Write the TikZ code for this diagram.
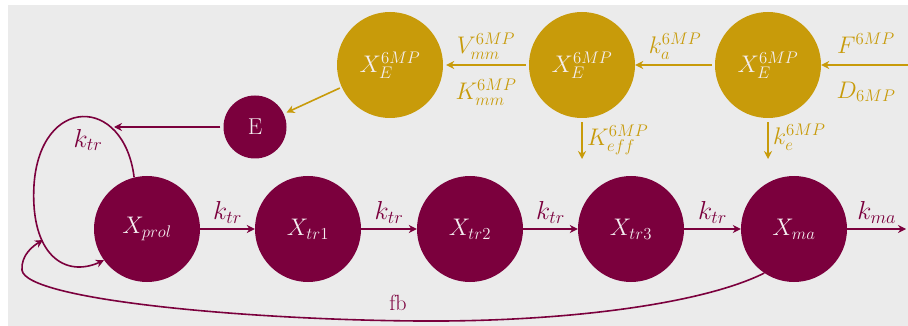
\RequirePackage{fix-cm}
\documentclass[tikz,border=0pt]{standalone}
\usetikzlibrary{arrows.meta}
\definecolor{bgc}{HTML}{EBEBEB}
\definecolor{maroon}{HTML}{7B003D}
\definecolor{gold}{HTML}{C89B0A}
\definecolor{ctext}{HTML}{F4EEF0}
\tikzset{
  mcirc/.style={circle,fill=maroon,draw=none,minimum size=106pt,inner sep=0pt,text=ctext,font=\fontsize{24}{28}\selectfont},
  ecirc/.style={circle,fill=maroon,draw=none,minimum size=63pt,inner sep=0pt,text=ctext,font=\fontsize{23}{26}\selectfont},
  gcirc/.style={circle,fill=gold,draw=none,minimum size=106pt,inner sep=0pt,text=ctext,font=\fontsize{24}{28}\selectfont},
  marr/.style={draw=maroon,line width=1.6pt,-{Stealth[length=8pt,width=8pt]}},
  garr/.style={draw=gold,line width=1.6pt,-{Stealth[length=8pt,width=8pt]}},
  mlab/.style={text=maroon,font=\fontsize{26}{30}\selectfont,inner sep=0pt},
  glab/.style={text=gold,font=\fontsize{24}{28}\selectfont,inner sep=0pt},
}
\begin{document}
\begin{tikzpicture}[x=1pt,y=-1pt]
\useasboundingbox (0,0) rectangle (908,326);
\fill[bgc] (8,5) rectangle (908,326);
% maroon chain
\node[mcirc] (xprol) at (147,229) {$X_{prol}$};
\node[mcirc] (xtr1) at (308,229) {$X_{tr1}$};
\node[mcirc] (xtr2) at (470,229) {$X_{tr2}$};
\node[mcirc] (xtr3) at (631,229) {$X_{tr3}$};
\node[mcirc] (xma) at (794,229) {$X_{ma}$};
\node[ecirc] (e) at (255,127) {E};
% gold
\node[gcirc] (g1) at (390,65) {$X_E^{6MP}$};
\node[gcirc] (g2) at (582,65) {$X_E^{6MP}$};
\node[gcirc] (g3) at (768,65) {$X_E^{6MP}$};
% coordinates
\coordinate (inR) at (908,65);
\coordinate (outR) at (906,229);
\coordinate (loopTop) at (114,127);
\coordinate (d2) at (582,159);
\coordinate (d3) at (768,159);
\coordinate (fbEnd) at (43,240);
% chain arrows
\draw[marr] (xprol) -- node[mlab,above=5pt] {$k_{tr}$} (xtr1);
\draw[marr] (xtr1) -- node[mlab,above=5pt] {$k_{tr}$} (xtr2);
\draw[marr] (xtr2) -- node[mlab,above=5pt] {$k_{tr}$} (xtr3);
\draw[marr] (xtr3) -- node[mlab,above=5pt] {$k_{tr}$} (xma);
\draw[marr] (xma) -- node[mlab,above=5pt] {$k_{ma}$} (outR);
% E arrow
\draw[marr,shorten <=3pt] (e) -- (loopTop);
% loop
\draw[marr] (xprol.104) .. controls (124,95) and (40,95) .. (34,185) .. controls (30,255) and (65,278) .. (xprol.216);
\node[mlab] (ktrloop) at (88,140) {$k_{tr}$};
% feedback
\draw[marr] (xma.236) .. controls (700,305) and (560,322) .. (420,321)
  .. controls (250,320) and (25,300) .. (22,270)
  .. controls (21,255) and (33,246) .. (fbEnd);
\node[text=maroon,font=\fontsize{22}{26}\selectfont,inner sep=0pt] (fb) at (398,303) {fb};
% gold arrows
\draw[garr] (inR) -- (g3);
\node[glab] (F) at (866,43) {$F^{6MP}$};
\node[glab] (D) at (866,92) {$D_{6MP}$};
\draw[garr,shorten <=3pt] (g3) -- node[glab,above=5pt] {$k_a^{6MP}$} (g2);
\draw[garr,shorten <=3pt,shorten >=3pt] (g2) -- (g1);
\node[glab] (V) at (486,46) {$V_{mm}^{6MP}$};
\node[glab] (K) at (486,92) {$K_{mm}^{6MP}$};
\draw[garr,shorten <=2pt,shorten >=3pt] (g1) -- (e);
\draw[garr,shorten <=4pt] (g2) -- (d2);
\node[glab,anchor=west] (keff) at (587,140) {$K_{eff}^{6MP}$};
\draw[garr,shorten <=4pt] (g3) -- (d3);
\node[glab,anchor=west] (ke) at (773,137) {$k_e^{6MP}$};
\end{tikzpicture}
\end{document}
